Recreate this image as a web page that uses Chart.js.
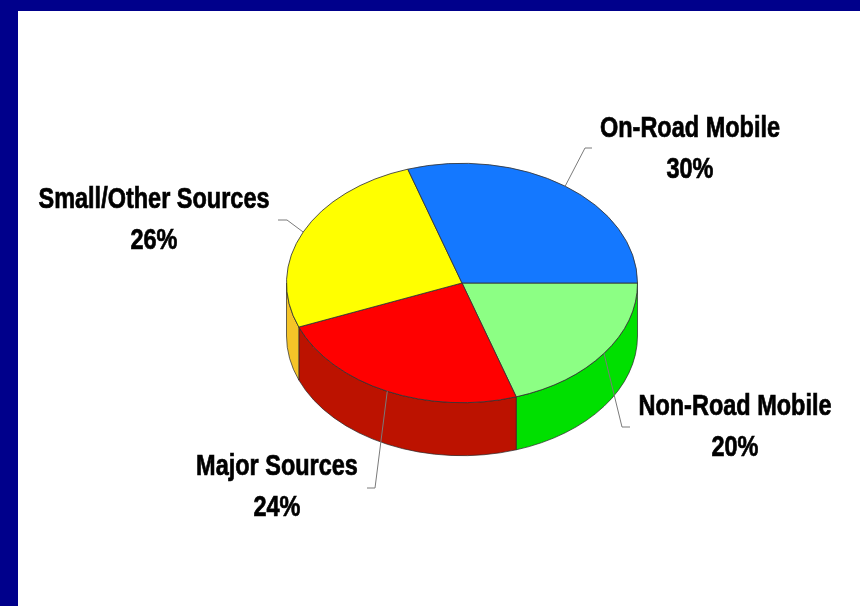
<!DOCTYPE html>
<html lang="en">
<head>
    <meta charset="UTF-8">
    <title>Emission Sources</title>
    <script src="https://cdn.jsdelivr.net/npm/chart.js"></script>
    <style>
        html, body {
            margin: 0;
            padding: 0;
            background-color: #00008B;
            overflow: hidden;
        }
        .panel {
            position: absolute;
            left: 18px;
            top: 11px;
            width: 842px;
            height: 595px;
            background: #ffffff;
        }
        #pieChart {
            position: absolute;
            left: 0;
            top: 0;
        }
    </style>
</head>
<body>
    <div class="panel"></div>
    <canvas id="pieChart" width="860" height="606"></canvas>

    <script>
        // Data (clockwise from 3 o'clock)
        const categories = ['Non-Road Mobile', 'Major Sources', 'Small/Other Sources', 'On-Road Mobile'];
        const shares = [20, 24, 26, 30];

        // Colours: top face and side wall
        const topColors = ['#8CFF84', '#FF0000', '#FFFF00', '#1478FF'];
        const sideColors = ['#00E000', '#BC1200', '#F5C428', '#0A4FB0'];

        // Label placement (page pixels): text centre, elbow of leader, tick end x
        const labelSpots = [
            { x: 735, y: 407, elbow: [622, 427], tickX: 630 },
            { x: 277, y: 467, elbow: [375, 488], tickX: 367 },
            { x: 154, y: 200, elbow: [287, 220], tickX: 278 },
            { x: 690, y: 129, elbow: [585, 148], tickX: 592 }
        ];

        const tilt = 0.682;   // ry / rx
        const depth = 53;     // thickness of the pie
        const narrow = 0.81;  // horizontal squeeze of the label font

        // Draws the pie as a tilted disc with a visible side wall
        const pie3d = {
            id: 'pie3d',
            beforeDatasetsDraw(chart) {
                const ctx = chart.ctx;
                const meta = chart.getDatasetMeta(0);
                ctx.save();
                meta.data.forEach((arc, i) => {
                    const cx = arc.x, cy = arc.y, r = arc.outerRadius;
                    const a0 = Math.max(arc.startAngle, 0);
                    const a1 = Math.min(arc.endAngle, Math.PI);
                    if (a1 <= a0) return;
                    ctx.beginPath();
                    ctx.ellipse(cx, cy, r, r * tilt, 0, a0, a1);
                    ctx.lineTo(cx + r * Math.cos(a1), cy + r * tilt * Math.sin(a1) + depth);
                    ctx.ellipse(cx, cy + depth, r, r * tilt, 0, a1, a0, true);
                    ctx.closePath();
                    ctx.fillStyle = sideColors[i];
                    ctx.fill();
                    ctx.lineWidth = 1;
                    ctx.strokeStyle = 'rgba(40,40,40,0.7)';
                    ctx.stroke();
                });
                ctx.restore();

                // squash the top face into an ellipse
                const c = meta.data[0];
                ctx.save();
                ctx.translate(c.x, c.y);
                ctx.scale(1, tilt);
                ctx.translate(-c.x, -c.y);
            },
            afterDatasetsDraw(chart) {
                const ctx = chart.ctx;
                ctx.restore();

                const meta = chart.getDatasetMeta(0);
                meta.data.forEach((arc, i) => {
                    const mid = (arc.startAngle + arc.endAngle) / 2;
                    const sx = arc.x + arc.outerRadius * Math.cos(mid);
                    const sy = arc.y + arc.outerRadius * tilt * Math.sin(mid);
                    const spot = labelSpots[i];

                    // leader line
                    ctx.save();
                    ctx.beginPath();
                    ctx.moveTo(sx, sy);
                    ctx.lineTo(spot.elbow[0], spot.elbow[1]);
                    ctx.lineTo(spot.tickX, spot.elbow[1]);
                    ctx.lineWidth = 1;
                    ctx.strokeStyle = '#7a7a7a';
                    ctx.stroke();
                    ctx.restore();

                    // label text (condensed look, slightly heavier)
                    ctx.save();
                    ctx.translate(spot.x, spot.y);
                    ctx.scale(narrow, 1);
                    ctx.fillStyle = '#000000';
                    ctx.strokeStyle = '#000000';
                    ctx.lineWidth = 0.7;
                    ctx.font = 'bold 29px "Liberation Sans", Arial, sans-serif';
                    ctx.textAlign = 'center';
                    ctx.textBaseline = 'middle';
                    ctx.fillText(categories[i], 0, 0);
                    ctx.strokeText(categories[i], 0, 0);
                    ctx.fillText(shares[i] + '%', 0, 41);
                    ctx.strokeText(shares[i] + '%', 0, 41);
                    ctx.restore();
                });
            }
        };

        new Chart(document.getElementById('pieChart'), {
            type: 'pie',
            data: {
                labels: categories,
                datasets: [{
                    data: shares,
                    backgroundColor: topColors,
                    borderColor: '#333333',
                    borderWidth: 1
                }]
            },
            options: {
                responsive: false,
                animation: false,
                rotation: 90,
                layout: {
                    padding: { left: 286, right: 222, top: 107, bottom: 147 }
                },
                plugins: {
                    legend: { display: false },
                    tooltip: { enabled: false }
                }
            },
            plugins: [pie3d]
        });
    </script>
</body>
</html>
